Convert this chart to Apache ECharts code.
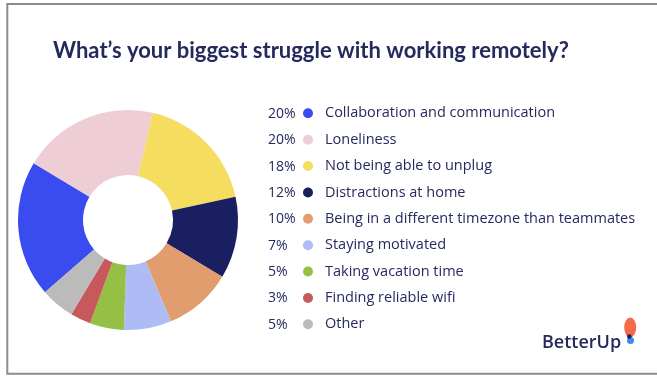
<!DOCTYPE html>
<html>
<head>
<meta charset="utf-8">
<style>
  html, body { margin: 0; padding: 0; background: #ffffff; }
  #chart { width: 657px; height: 378px; }
</style>
<script src="https://cdn.jsdelivr.net/npm/echarts@6/dist/echarts.min.js"></script>
</head>
<body>
<div id="chart"></div>
<script>
// Survey answers, in the order they are listed and drawn clockwise
const categories = [
  'Collaboration and communication',
  'Loneliness',
  'Not being able to unplug',
  'Distractions at home',
  'Being in a different timezone than teammates',
  'Staying motivated',
  'Taking vacation time',
  'Finding reliable wifi',
  'Other'
];
const shares = [20, 20, 18, 12, 10, 7, 5, 3, 5];
const colors = ['#3a4cef', '#eecdd4', '#f5dd5f', '#1a1f61', '#e19d6e', '#afbbf4', '#95c045', '#c7585b', '#bbbbbb'];

const titleText = 'What\u2019s your biggest struggle with working remotely?';
const brandText = 'BetterUp';

const ink = '#252a5e';
const titleFont = 'Lato, "Noto Sans", sans-serif';
const bodyFont = '"Open Sans", "Noto Sans", sans-serif';

const rowTop = 103.3;
const rowStep = 26.375;

const chart = echarts.init(document.getElementById('chart'), null, { renderer: 'canvas' });

// Percentage column drawn to the left of each legend marker
const pctLabels = shares.map((v, i) => ({
  type: 'text',
  x: 268,
  y: rowTop + i * rowStep + 10.5,
  style: { text: v + '%', font: '14px ' + bodyFont, fill: ink, verticalAlign: 'middle' }
}));

chart.setOption({
  backgroundColor: '#ffffff',
  color: colors,
  animation: false,
  title: {
    text: titleText,
    left: 48,
    top: 35,
    textStyle: { fontSize: 22, fontWeight: 'bold', color: ink, fontFamily: titleFont }
  },
  legend: {
    orient: 'vertical',
    left: 303,
    top: rowTop,
    padding: 0,
    icon: 'circle',
    itemWidth: 10,
    itemHeight: 10,
    itemGap: rowStep - 20,
    selectedMode: false,
    data: categories,
    textStyle: { fontSize: 14.5, color: ink, fontFamily: bodyFont, lineHeight: 20, padding: [0, 0, 0, 7] }
  },
  series: [{
    type: 'pie',
    center: [128, 220],
    radius: [45, 110],
    startAngle: 221,
    clockwise: true,
    label: { show: false },
    labelLine: { show: false },
    itemStyle: { borderWidth: 0 },
    emphasis: { disabled: true },
    data: categories.map((name, i) => ({ name, value: shares[i] }))
  }],
  graphic: [
    {
      type: 'rect',
      shape: { x: 7.3, y: 4, width: 700, height: 369.7 },
      style: { fill: 'none', stroke: '#8c8c8c', lineWidth: 2 },
      silent: true
    },
    ...pctLabels,
    {
      type: 'text',
      x: 542,
      y: 342.5,
      style: { text: brandText, font: '600 18px ' + bodyFont, fill: ink, verticalAlign: 'middle' }
    },
    {
      type: 'circle',
      shape: { cx: 630.5, cy: 340.5, r: 3.5 },
      style: { fill: '#3a8df0' }
    },
    {
      type: 'circle',
      x: 630.2,
      y: 327.5,
      scaleY: 1.65,
      shape: { cx: 0, cy: 0, r: 6 },
      style: { fill: '#f46a4b' }
    },
    {
      type: 'circle',
      shape: { cx: 629.3, cy: 336.5, r: 2.3 },
      style: { fill: '#1a1f61' }
    }
  ]
});
</script>
</body>
</html>
